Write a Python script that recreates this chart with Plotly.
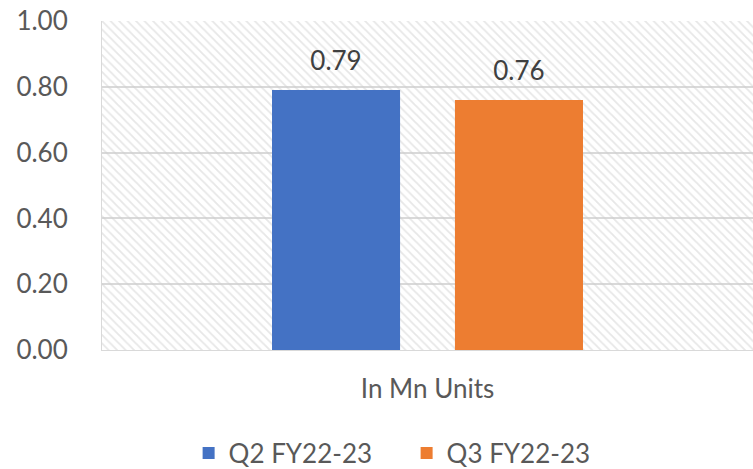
import plotly.graph_objects as go

categories = ["In Mn Units"]
series_names = ["Q2 FY22-23", "Q3 FY22-23"]
q2_values = [0.79]
q3_values = [0.76]
colors = ["#4472C4", "#ED7D31"]
y_ticks = [0.0, 0.2, 0.4, 0.6, 0.8, 1.0]

font_family = "Lato, 'Open Sans', sans-serif"
text_color = "#595959"
FS = 26

fig = go.Figure()

# hatched plot-area background (decorative, on hidden base axes)
fig.add_trace(go.Scatter(
    x=[0, 1, 1, 0, 0], y=[0, 0, 1, 1, 0],
    xaxis="x", yaxis="y",
    mode="lines", line=dict(width=0, color="rgba(0,0,0,0)"),
    fill="toself", fillcolor="rgba(0,0,0,0)",
    fillpattern=dict(shape="\\", fgcolor="#cfcfcf", bgcolor="rgba(0,0,0,0)",
                     size=6, solidity=0.3),
    hoverinfo="skip", showlegend=False,
))

for name, vals, col in zip(series_names, [q2_values, q3_values], colors):
    fig.add_trace(go.Bar(
        x=categories, y=vals, name=name,
        xaxis="x2", yaxis="y2", offsetgroup=name,
        marker=dict(color=col, line=dict(width=0)),
        hoverinfo="skip",
    ))

for name, vals in zip(series_names, [q2_values, q3_values]):
    fig.add_trace(go.Scatter(
        x=categories, y=vals, xaxis="x2", yaxis="y2", offsetgroup=name,
        mode="markers+text", text=[f"{v:.2f}" for v in vals],
        textposition="top center",
        marker=dict(size=20, color="rgba(0,0,0,0)"),
        textfont=dict(size=FS, color="#404040", family=font_family),
        showlegend=False, hoverinfo="skip", cliponaxis=False,
    ))

fig.update_layout(
    width=753, height=469,
    margin=dict(l=102, r=0, t=21, b=119),
    paper_bgcolor="white", plot_bgcolor="white",
    font=dict(family=font_family, color=text_color, size=FS),
    barmode="group", bargap=0.438, bargroupgap=0.30,
    scattermode="group", scattergap=0.438,
    showlegend=True,
    legend=dict(orientation="h", x=0.54, xanchor="center", xref="container",
                y=0.034, yanchor="middle", yref="container",
                font=dict(size=FS, color=text_color), itemwidth=30,
                entrywidth=173, traceorder="normal"),
    xaxis=dict(range=[0, 1], visible=False, fixedrange=True),
    yaxis=dict(range=[0, 1], visible=False, fixedrange=True),
    xaxis2=dict(overlaying="x", anchor="y2", type="category", automargin=False,
                showgrid=False, showline=True, linecolor="#d9d9d9", linewidth=1,
                ticks="", tickfont=dict(size=FS, color=text_color),
                ticklabelstandoff=16),
    yaxis2=dict(overlaying="y", anchor="x2", range=[0, 1], tickvals=y_ticks,
                automargin=False,
                tickformat=".2f", showgrid=True, gridcolor="#d9d9d9", gridwidth=1.5,
                zeroline=False, showline=True, linecolor="#d9d9d9", linewidth=1,
                ticks="", tickfont=dict(size=FS, color=text_color),
                ticklabelstandoff=28),
)

fig.write_html("out.html", config={"displayModeBar": False},
               post_script="document.body.style.margin='0';document.body.style.overflow='hidden';")
